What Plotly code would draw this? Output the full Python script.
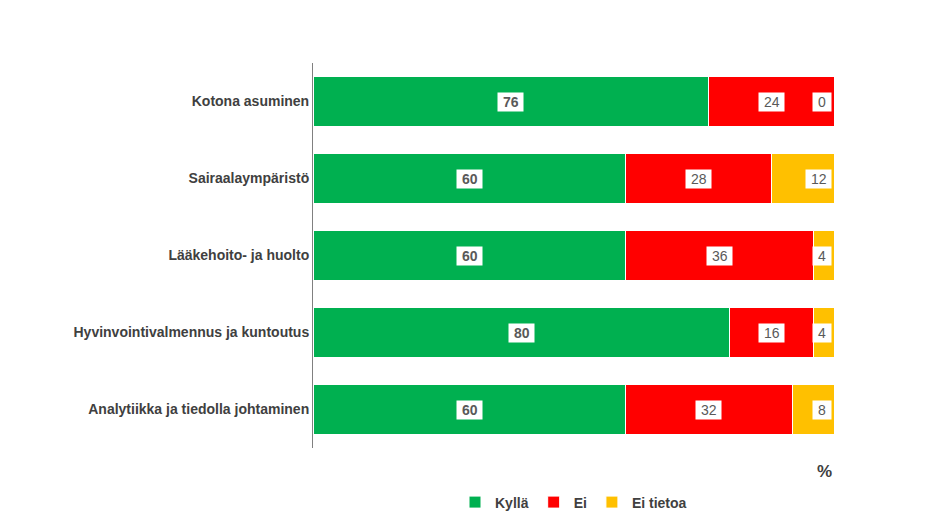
import plotly.graph_objects as go

categories = ["Kotona asuminen", "Sairaalaympäristö", "Lääkehoito- ja huolto",
              "Hyvinvointivalmennus ja kuntoutus", "Analytiikka ja tiedolla johtaminen"]
kylla = [76, 60, 60, 80, 60]
ei = [24, 28, 36, 16, 32]
ei_tietoa = [0, 12, 4, 4, 8]

colors = {"Kyllä": "#00B050", "Ei": "#FF0000", "Ei tietoa": "#FFC000"}
fig = go.Figure()
for name, vals in [("Kyllä", kylla), ("Ei", ei), ("Ei tietoa", ei_tietoa)]:
    fig.add_trace(go.Bar(y=categories, x=vals, name="<b>%s</b>" % name, orientation="h",
                         marker=dict(color=colors[name], line=dict(color="white", width=1))))

ann = []
for i, c in enumerate(categories):
    ann.append(dict(x=kylla[i] / 2, y=c, text="<b> %d </b>" % kylla[i], showarrow=False))
    ann.append(dict(x=kylla[i] + ei[i] / 2, y=c, text=" %d " % ei[i], showarrow=False))
    ann.append(dict(x=100, y=c, text=" %d " % ei_tietoa[i], showarrow=False, xanchor="right", xshift=-2))
for a in ann:
    a.update(bgcolor="white", font=dict(size=14, color="#595959", family="Liberation Sans"),
             borderpad=1, xref="x", yref="y")
ann.append(dict(x=1, y=-0.03, xref="paper", yref="paper", text="<b>%</b>", showarrow=False,
                xanchor="right", yanchor="top", font=dict(size=17, color="#404040", family="Liberation Sans")))

fig.update_layout(
    barmode="stack", width=952, height=532, plot_bgcolor="white", paper_bgcolor="white",
    margin=dict(l=305, r=126, t=55, b=92, pad=0), bargap=0.35, annotations=ann,
    font=dict(family="Liberation Sans", color="#404040"),
    xaxis=dict(range=[0, 100], showticklabels=False, showgrid=False, zeroline=False),
    yaxis=dict(autorange="reversed", showline=True, linecolor="#808080", linewidth=1,
               ticks="", tickfont=dict(size=14, color="#404040"), ticksuffix="   "),
    legend=dict(orientation="h", x=0.5, xanchor="center", y=-0.1, yanchor="top",
                traceorder="normal", font=dict(size=14, color="#404040"),
                itemwidth=30, entrywidth=0),
)
fig.update_yaxes(tickvals=categories, ticktext=["<b>%s</b>" % c for c in categories])
fig.write_html("out.html")
